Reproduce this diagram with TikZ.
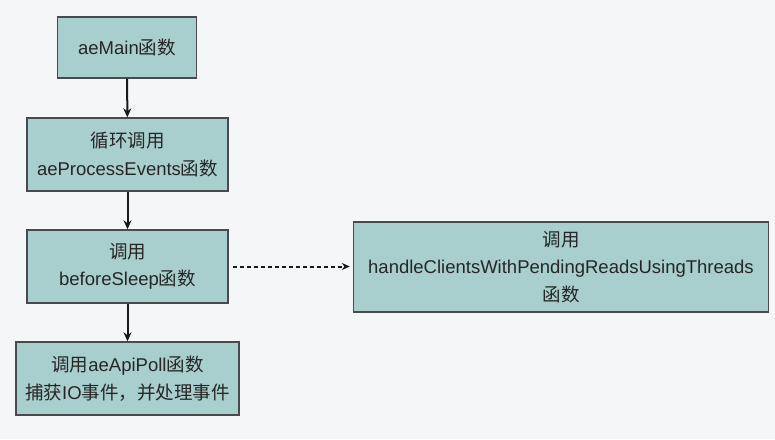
\documentclass[tikz,border=0pt]{standalone}
\usepackage{fontspec}
\setmainfont{Liberation Sans}
\newfontfamily\cjk{Noto Sans CJK SC}
\usetikzlibrary{arrows.meta}
\definecolor{bgc}{RGB}{245,246,248}
\definecolor{boxfill}{RGB}{168,206,206}
\definecolor{boxline}{RGB}{70,76,78}
\newcommand{\zh}[1]{{\cjk #1}}
\tikzset{
  x=1pt,y=-1pt,
  fbox/.style={draw=boxline,fill=boxfill,line width=1.4pt,inner sep=0pt,
    font=\fontsize{18.5}{27.5}\selectfont,align=center,text=black!85},
  flow/.style={-{Stealth[length=9pt,width=8pt]},line width=2pt,black!90},
  dflow/.style={-{Stealth[length=8pt,width=7pt]},line width=2pt,dash pattern=on 4pt off 3pt,black!90}
}
\begin{document}
\begin{tikzpicture}
\useasboundingbox[fill=bgc] (0,0) rectangle (775,439);
\node[fbox,minimum width=139pt,minimum height=61pt] (a) at (127,47.5) {aeMain\zh{函数}};
\node[fbox,minimum width=201pt,minimum height=73pt] (b) at (127.5,154.5) {\zh{循环调用}\\aeProcessEvents\zh{函数}};
\node[fbox,minimum width=201pt,minimum height=73pt] (c) at (127.5,266.5) {\zh{调用}\\beforeSleep\zh{函数}};
\node[fbox,minimum width=223pt,minimum height=73pt] (d) at (127.5,378.5) {\zh{调用}aeApiPoll\zh{函数}\\\zh{捕获}IO\zh{事件，并处理事件}};
\node[fbox,minimum width=415pt,minimum height=90pt] (e) at (561,267) {\zh{调用}\\handleClientsWithPendingReadsUsingThreads\\\zh{函数}};
\draw[flow] (a) -- (b);
\draw[flow] (b) -- (c);
\draw[flow] (c) -- (d);
\draw[dflow] ([xshift=4pt]c.east) -- ([xshift=-3pt]c.east -| e.west);
\end{tikzpicture}
\end{document}
